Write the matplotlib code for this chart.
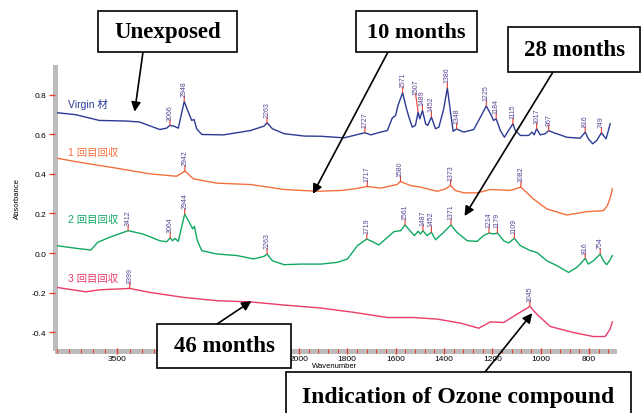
import numpy as np
import matplotlib
matplotlib.use("Agg")
import matplotlib.pyplot as plt
from matplotlib.patches import Rectangle

plt.rcParams['font.family'] = ['Liberation Sans', 'Noto Sans CJK JP', 'DejaVu Sans']
plt.rcParams['axes.unicode_minus'] = False

# --- spectra (wavenumber, absorbance) ---
virgin_w = [4000, 3845, 3650, 3427, 3317, 3150, 3094, 3066, 3033, 2997, 2948, 2914, 2886, 2867,
            2845, 2803, 2622, 2400, 2289, 2263, 2219, 2122, 1978, 1909, 1813, 1727, 1703, 1662,
            1634, 1614, 1600, 1590, 1571, 1555, 1545, 1531, 1518, 1507, 1500, 1489, 1476, 1467,
            1452, 1435, 1421, 1401, 1386, 1373, 1362, 1348, 1318, 1277, 1249, 1225, 1208, 1195,
            1184, 1167, 1150, 1133, 1115, 1105, 1084, 1050, 1036, 1027, 1017, 1002, 981, 967,
            947, 920, 892, 837, 816, 803, 785, 768, 749, 730, 720, 713]
virgin_a = [0.709, 0.699, 0.670, 0.667, 0.662, 0.624, 0.631, 0.645, 0.641, 0.631, 0.766, 0.712,
            0.670, 0.675, 0.628, 0.599, 0.597, 0.619, 0.641, 0.658, 0.628, 0.603, 0.591, 0.590,
            0.582, 0.608, 0.597, 0.611, 0.619, 0.682, 0.695, 0.746, 0.810, 0.729, 0.687, 0.636,
            0.645, 0.712, 0.678, 0.721, 0.653, 0.645, 0.687, 0.628, 0.636, 0.729, 0.834, 0.713,
            0.615, 0.627, 0.611, 0.624, 0.687, 0.743, 0.704, 0.670, 0.678, 0.619, 0.585, 0.619,
            0.653, 0.619, 0.594, 0.594, 0.611, 0.597, 0.628, 0.597, 0.603, 0.619, 0.608, 0.597,
            0.585, 0.580, 0.611, 0.577, 0.552, 0.569, 0.608, 0.577, 0.619, 0.653]

m10_w = [4000, 3789, 3511, 3233, 3011, 2942, 2872, 2678, 2400, 2122, 1923, 1827, 1772, 1717,
         1662, 1594, 1580, 1538, 1497, 1428, 1394, 1373, 1353, 1318, 1263, 1208, 1126, 1082,
         1030, 975, 892, 810, 741, 724, 710, 704]
m10_a = [0.479, 0.456, 0.429, 0.400, 0.388, 0.414, 0.375, 0.353, 0.346, 0.321, 0.312, 0.316,
         0.324, 0.336, 0.328, 0.346, 0.361, 0.341, 0.333, 0.312, 0.324, 0.341, 0.316, 0.304,
         0.304, 0.321, 0.316, 0.333, 0.273, 0.223, 0.192, 0.209, 0.214, 0.240, 0.290, 0.324]

m28_w = [4000, 3845, 3720, 3664, 3567, 3412, 3289, 3150, 3094, 3064, 3044, 3025, 2997, 2944,
         2906, 2878, 2864, 2839, 2803, 2678, 2511, 2372, 2289, 2263, 2219, 2122, 1992, 1909,
         1840, 1799, 1758, 1719, 1669, 1607, 1579, 1561, 1541, 1522, 1507, 1497, 1487, 1470,
         1452, 1435, 1401, 1371, 1347, 1304, 1263, 1236, 1214, 1195, 1179, 1153, 1133, 1109,
         1084, 1043, 1016, 975, 933, 885, 851, 830, 816, 803, 782, 754, 741, 727, 713, 704]
m28_a = [0.037, 0.024, 0.015, 0.054, 0.079, 0.113, 0.096, 0.062, 0.057, 0.076, 0.062, 0.074,
         0.059, 0.197, 0.155, 0.122, 0.135, 0.062, 0.012, -0.005, -0.013, -0.030, -0.017,
         -0.005, -0.039, -0.059, -0.056, -0.056, -0.047, -0.030, 0.037, 0.071, 0.041, 0.108,
         0.113, 0.142, 0.113, 0.088, 0.110, 0.096, 0.113, 0.088, 0.105, 0.067, 0.105, 0.142,
         0.105, 0.062, 0.059, 0.088, 0.101, 0.096, 0.101, 0.062, 0.051, 0.074, 0.037, 0.012,
         0.003, -0.039, -0.064, -0.098, -0.073, -0.047, -0.027, -0.056, -0.039, -0.005,
         -0.039, -0.059, -0.034, -0.013]

m46_w = [4000, 3761, 3650, 3399, 3233, 2956, 2678, 2400, 2122, 1909, 1772, 1634, 1525, 1428,
         1332, 1256, 1208, 1153, 1098, 1045, 1016, 961, 865, 782, 734, 713, 704]
m46_a = [-0.174, -0.196, -0.186, -0.179, -0.199, -0.224, -0.241, -0.247, -0.263, -0.278,
         -0.300, -0.326, -0.326, -0.334, -0.354, -0.380, -0.348, -0.351, -0.309, -0.270,
         -0.309, -0.371, -0.402, -0.422, -0.422, -0.385, -0.348]

virgin_peaks = [3066, 2948, 2263, 1727, 1571, 1507, 1489, 1452, 1386, 1348, 1225, 1184, 1115,
                1017, 967, 816, 749]
m10_peaks = [2942, 1717, 1580, 1373, 1082]
m28_peaks = [3412, 3064, 2944, 2263, 1719, 1561, 1487, 1452, 1371, 1214, 1179, 1109, 816, 754]
m46_peaks = [3399, 1045]

series_names = ['Virgin 材', '1 回目回収', '2 回目回収', '3 回目回収']
colors = ['#2b3a94', '#f2703e', '#10a862', '#ea3c68']

yticks = [-0.4, -0.2, 0.0, 0.2, 0.4, 0.6, 0.8]
xticks = [3500, 3000, 2500, 2000, 1800, 1600, 1400, 1200, 1000, 800]
xticklabels = ['3500', '', '', '2000', '1800', '1600', '1400', '1200', '1000', '800']
xminor = list(range(4000, 2000, -100)) + list(range(1960, 690, -40))

red = '#e8402f'
purple = '#5a4394'
W, H = 642, 414

fig = plt.figure(figsize=(W / 100, H / 100), dpi=100)
ax = fig.add_axes([57 / W, 1 - 349 / H, (614 - 57) / W, (349 - 68) / H])


def fwd(w):
    w = np.asarray(w, dtype=float)
    return np.where(w > 2000, 2000 + (w - 2000) / 2, w)


def inv(u):
    u = np.asarray(u, dtype=float)
    return np.where(u > 2000, 2000 + (u - 2000) * 2, u)


ax.set_xscale('function', functions=(fwd, inv))

data = [(virgin_w, virgin_a, virgin_peaks), (m10_w, m10_a, m10_peaks),
        (m28_w, m28_a, m28_peaks), (m46_w, m46_a, m46_peaks)]

# label offsets (points) where the source lifts a label off a crowded peak
label_shift = {(0, 1507): (-1.8, 13.0)}

for i, ((w, a, peaks), c) in enumerate(zip(data, colors)):
    ax.plot(w, a, color=c, lw=1.0, zorder=2)
    ws = np.array(w[::-1], dtype=float)
    As = np.array(a[::-1], dtype=float)
    for p in peaks:
        y = np.interp(p, ws, As)
        dx, dy = label_shift.get((i, p), (0, 3.8))
        ax.annotate('', xy=(p, y), xytext=(dx, dy), textcoords='offset points',
                    arrowprops=dict(arrowstyle='-', color=red, lw=0.8, shrinkA=0, shrinkB=0))
        ax.annotate(str(p), xy=(p, y), xytext=(dx, dy + 0.4), textcoords='offset points',
                    rotation=90, ha='center', va='bottom', fontsize=5, color=purple)

ax.set_xlim(4000, 697)
ax.set_ylim(-0.48, 0.94)

for s in ['top', 'right']:
    ax.spines[s].set_visible(False)
for s in ['left', 'bottom']:
    ax.spines[s].set_color('#bcbcbc')
    ax.spines[s].set_linewidth(3.6)
    ax.spines[s].set_position(('outward', 1.8))
    ax.spines[s].set_zorder(0.5)

ax.set_yticks(yticks)
ax.set_yticklabels([f'{v:.1f}' for v in yticks])
ax.set_xticks(xticks)
ax.set_xticklabels(xticklabels)
ax.set_xticks(xminor, minor=True)
ax.tick_params(axis='y', which='major', direction='out', length=4, width=1, color=red,
               labelsize=6, pad=2)
ax.tick_params(axis='x', which='major', direction='inout', length=3.8, width=1, color=red,
               labelsize=6, pad=1)
ax.tick_params(axis='x', which='minor', direction='inout', length=2.2, width=0.8, color=red)

fig.text(17 / W, 1 - 199 / H, 'Absorbance', rotation=90, ha='center', va='center', fontsize=5.5)
fig.text(335 / W, 1 - 367 / H, 'Wavenumber', ha='center', va='center', fontsize=5.5)

# series names
name_y = [105, 153, 220, 279]
for name, c, y in zip(series_names, colors, name_y):
    fig.text(68 / W, 1 - y / H, name, color=c, fontsize=7.5, ha='left', va='center')

# callout boxes: text, (left, top, right, bottom) in pixels, font size
boxes = [('Unexposed', (98, 12, 237, 53), 16.5),
         ('10 months', (356, 12, 477, 53), 16),
         ('28 months', (508, 28, 640, 73), 16.5),
         ('46 months', (157, 325, 291, 369), 16.5),
         ('Indication of Ozone compound', (286, 373, 631, 422), 17)]
for text, (l, t, r, b), fs in boxes:
    fig.add_artist(Rectangle((l / W, 1 - b / H), (r - l) / W, (b - t) / H,
                             transform=fig.transFigure, fc='white', ec='black', lw=1.2, zorder=5))
    fig.text((l + r) / 2 / W, 1 - (t + b) / 2 / H, text, ha='center', va='center',
             fontsize=fs, fontweight='bold', family='Liberation Serif', zorder=6)

# arrows: tip in data coords, tail in image pixels
arrows = [((3358, 0.714), (143, 53)),
          ((1942, 0.299), (388, 53)),
          ((1315, 0.187), (553, 73)),
          ((2392, -0.243), (217, 325)),
          ((1035, -0.304), (485, 373))]
for tip, (tx, ty) in arrows:
    ax.annotate('', xy=tip, xycoords='data', xytext=(tx, H - ty), textcoords='figure pixels',
                arrowprops=dict(arrowstyle='-|>', color='black', lw=1.2, mutation_scale=14,
                                shrinkA=0, shrinkB=0),
                annotation_clip=False, zorder=4)

fig.savefig('out.png', dpi=100)
